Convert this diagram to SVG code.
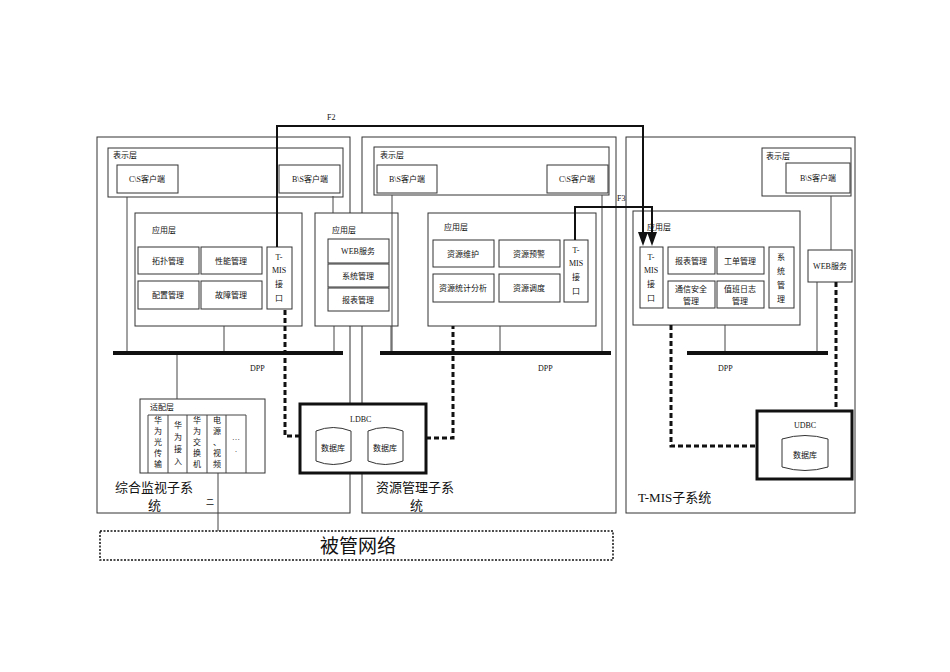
<svg xmlns="http://www.w3.org/2000/svg" width="950" height="672" viewBox="0 0 950 672">
<defs>
<style>
.b{fill:#fff;stroke:#333;stroke-width:1}
.tb{fill:#fff;stroke:#111;stroke-width:3}
.l{stroke:#444;stroke-width:1;fill:none}
.bus{stroke:#111;stroke-width:4}
.d{stroke:#111;stroke-width:3;stroke-dasharray:5,3;fill:none}
.f{stroke:#111;stroke-width:2;fill:none}
.ah{fill:#111}
text{font-family:"Liberation Serif","Noto Sans CJK SC",serif;font-size:8px;fill:#111}
.c{text-anchor:middle}
.big{font-size:13px}
</style>
</defs>
<rect width="950" height="672" fill="#fff"/>
<g id="sys1">
<rect class="b" x="97" y="137" width="253" height="376"/>
<text class="big" x="115" y="492">综合监视子系</text><text class="big" x="148" y="510">统</text><text x="206" y="505">二</text>
</g>
<g id="sys2">
<rect class="b" x="362" y="137" width="254" height="376"/>
<text class="big" x="376" y="492">资源管理子系</text><text class="big" x="410" y="510">统</text>
</g>
<g id="sys3">
<rect class="b" x="626" y="137" width="229" height="376"/>
<text class="big" x="638" y="502">T-MIS子系统</text>
</g>
<g id="pres1"><rect class="b" x="108" y="148" width="235" height="49"/><text x="113" y="158">表示层</text></g>
<g id="cs1"><rect class="b" x="117" y="165" width="61" height="28"/><text class="c" x="147" y="182">C\S客户端</text></g>
<g id="bs1"><rect class="b" x="279" y="165" width="61" height="28"/><text class="c" x="310" y="182">B\S客户端</text></g>
<g id="app1"><rect class="b" x="135" y="213" width="167" height="113"/><text x="152" y="233">应用层</text></g>
<g id="tp"><rect class="b" x="138" y="247" width="61" height="27"/><text class="c" x="168" y="264">拓扑管理</text></g>
<g id="xn"><rect class="b" x="201" y="247" width="61" height="27"/><text class="c" x="231" y="264">性能管理</text></g>
<g id="pz"><rect class="b" x="138" y="281" width="61" height="28"/><text class="c" x="168" y="298">配置管理</text></g>
<g id="gz"><rect class="b" x="201" y="281" width="61" height="28"/><text class="c" x="231" y="298">故障管理</text></g>
<g id="tmis1"><rect class="b" x="267" y="247" width="25" height="62"/><text class="c" x="279" y="260">T-</text><text class="c" x="279" y="273">MIS</text><text class="c" x="279" y="287">接</text><text class="c" x="279" y="301">口</text></g>
<g id="app1b"><rect class="b" x="315" y="213" width="83" height="113"/><text x="332" y="233">应用层</text>
<rect class="b" x="328" y="239" width="61" height="24"/><text class="c" x="358" y="254">WEB服务</text>
<rect class="b" x="328" y="264" width="61" height="23"/><text class="c" x="358" y="279">系统管理</text>
<rect class="b" x="328" y="288" width="61" height="23"/><text class="c" x="358" y="303">报表管理</text></g>
<g id="adapter"><rect class="b" x="140" y="399" width="125" height="74"/><text x="150" y="410">适配层</text>
<path class="l" d="M148,415H246V473M148,415V473M168,415V473M187,415V473M207,415V473M226,415V473"/>
<text class="c" x="158" y="423">华</text><text class="c" x="158" y="434">为</text><text class="c" x="158" y="445">光</text><text class="c" x="158" y="456">传</text><text class="c" x="158" y="467">输</text>
<text class="c" x="178" y="428">华</text><text class="c" x="178" y="440">为</text><text class="c" x="178" y="452">接</text><text class="c" x="178" y="464">入</text>
<text class="c" x="197" y="423">华</text><text class="c" x="197" y="434">为</text><text class="c" x="197" y="445">交</text><text class="c" x="197" y="456">换</text><text class="c" x="197" y="467">机</text>
<text class="c" x="217" y="423">电</text><text class="c" x="217" y="434">源</text><text class="c" x="217" y="445">、</text><text class="c" x="217" y="456">视</text><text class="c" x="217" y="467">频</text>
<text class="c" x="236" y="440">…</text><text class="c" x="236" y="452">.</text></g>
<g id="db1"><rect class="tb" x="300" y="404" width="126" height="69"/><text x="350" y="422">LDBC</text>
<path class="b" d="M316,431Q333,424 351,431V461Q333,468 316,461Z"/><text class="c" x="333" y="451">数据库</text>
<path class="b" d="M368,431Q385,424 403,431V461Q385,468 368,461Z"/><text class="c" x="385" y="451">数据库</text></g>
<g id="pres2"><rect class="b" x="374" y="147" width="235" height="48"/><text x="380" y="158">表示层</text>
<rect class="b" x="377" y="165" width="60" height="28"/><text class="c" x="407" y="182">B\S客户端</text>
<rect class="b" x="547" y="165" width="61" height="28"/><text class="c" x="577" y="182">C\S客户端</text></g>
<g id="app2"><rect class="b" x="428" y="213" width="168" height="113"/><text x="444" y="230">应用层</text>
<rect class="b" x="433" y="240" width="61" height="27"/><text class="c" x="463" y="257">资源维护</text>
<rect class="b" x="499" y="240" width="61" height="27"/><text class="c" x="529" y="257">资源预警</text>
<rect class="b" x="433" y="274" width="61" height="28"/><text class="c" x="463" y="291">资源统计分析</text>
<rect class="b" x="499" y="274" width="61" height="28"/><text class="c" x="529" y="291">资源调度</text>
<rect class="b" x="564" y="240" width="24" height="62"/><text class="c" x="576" y="253">T-</text><text class="c" x="576" y="266">MIS</text><text class="c" x="576" y="280">接</text><text class="c" x="576" y="294">口</text></g>
<g id="pres3"><rect class="b" x="762" y="148" width="89" height="48"/><text x="766" y="159">表示层</text>
<rect class="b" x="786" y="163" width="64" height="30"/><text class="c" x="818" y="181">B\S客户端</text></g>
<g id="app3"><rect class="b" x="633" y="211" width="167" height="114"/><text x="647" y="230">应用层</text>
<rect class="b" x="640" y="247" width="23" height="61"/><text class="c" x="651" y="260">T-</text><text class="c" x="651" y="273">MIS</text><text class="c" x="651" y="287">接</text><text class="c" x="651" y="301">口</text>
<rect class="b" x="668" y="247" width="47" height="27"/><text class="c" x="691" y="264">报表管理</text>
<rect class="b" x="717" y="247" width="47" height="27"/><text class="c" x="740" y="264">工单管理</text>
<rect class="b" x="668" y="281" width="47" height="27"/><text class="c" x="691" y="292">通信安全</text><text class="c" x="691" y="304">管理</text>
<rect class="b" x="717" y="281" width="47" height="27"/><text class="c" x="740" y="292">值班日志</text><text class="c" x="740" y="304">管理</text>
<rect class="b" x="769" y="247" width="25" height="61"/><text class="c" x="781" y="260">系</text><text class="c" x="781" y="274">统</text><text class="c" x="781" y="288">管</text><text class="c" x="781" y="302">理</text></g>
<g id="web3"><rect class="b" x="808" y="250" width="44" height="32"/><text class="c" x="830" y="269">WEB服务</text></g>
<g id="db3"><rect class="tb" x="757" y="411" width="95" height="68"/><text class="c" x="805" y="428">UDBC</text>
<path class="b" d="M782,439Q805,432 828,439V467Q805,474 782,467Z"/><text class="c" x="805" y="458">数据库</text></g>
<g id="net"><rect x="100" y="531" width="513" height="29" fill="none" stroke="#111" stroke-width="1.5" stroke-dasharray="2,1.5"/><text class="c" x="358" y="553" style="font-size:19px">被管网络</text></g>
<g id="connectors">
<path class="l" d="M127,197V353M224,326V353M333,196V213M334,326V353M391,326V353M177,353V399M218,473V531M392,195V353M602,195V353M500,326V353M831,196V250M817,282V353M725,325V353"/>
<path class="bus" d="M113,353H343M380,353H611M687,353H828"/>
<path class="d" d="M285,310V436H300M426,438H453V326M671,325V446H757M836,282V411"/>
<path class="f" d="M277,247V126H643V233"/>
<path class="f" d="M575,240V207H652V233"/>
<path class="ah" d="M638,232H648L643,246ZM647,232H657L652,246Z"/>
<text x="327" y="120">F2</text><text x="617" y="201">F3</text>
<text x="250" y="371">DPP</text><text x="538" y="371">DPP</text><text x="718" y="371">DPP</text>
</g>
</svg>
